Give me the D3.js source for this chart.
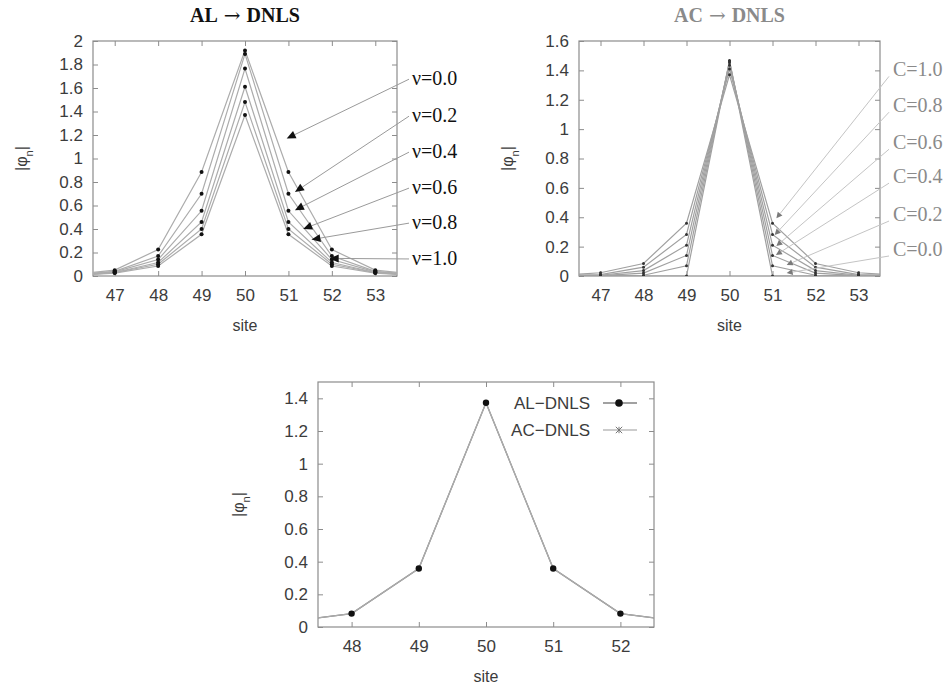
<!DOCTYPE html>
<html>
<head>
<meta charset="utf-8">
<script src="https://cdn.jsdelivr.net/npm/d3@7"></script>
<style>
  html, body { margin: 0; padding: 0; background: #fff; }
  svg { display: block; }
</style>
</head>
<body>
<svg id="chart" width="948" height="690"></svg>
<script>
// ---------------- DATA ----------------
const sites = [46, 47, 48, 49, 50, 51, 52, 53, 54];

// AL -> DNLS panel, one series per nu
const nuLabels = ["ν=0.0", "ν=0.2", "ν=0.4", "ν=0.6", "ν=0.8", "ν=1.0"];
const alNu00 = [0.012, 0.050, 0.225, 0.885, 1.920, 0.885, 0.225, 0.050, 0.012];
const alNu02 = [0.008, 0.040, 0.170, 0.700, 1.890, 0.700, 0.170, 0.040, 0.008];
const alNu04 = [0.006, 0.035, 0.140, 0.555, 1.765, 0.555, 0.140, 0.035, 0.006];
const alNu06 = [0.005, 0.030, 0.115, 0.460, 1.610, 0.460, 0.115, 0.030, 0.005];
const alNu08 = [0.004, 0.028, 0.100, 0.400, 1.480, 0.400, 0.100, 0.028, 0.004];
const alNu10 = [0.004, 0.025, 0.085, 0.355, 1.370, 0.355, 0.085, 0.025, 0.004];
const alSeries = [alNu00, alNu02, alNu04, alNu06, alNu08, alNu10];
// annotation: label height (value units) and arrow target (site, value)
const alLabelValue = [1.675, 1.36, 1.054, 0.748, 0.45, 0.145];
const alArrowSite  = [50.96, 51.15, 51.15, 51.34, 51.53, 51.95];
const alArrowValue = [1.17, 0.715, 0.56, 0.40, 0.31, 0.15];

// AC -> DNLS panel, one series per C
const cLabels = ["C=0.0", "C=0.2", "C=0.4", "C=0.6", "C=0.8", "C=1.0"];
const acC00 = [0.000, 0.000, 0.000, 0.000, 1.467, 0.000, 0.000, 0.000, 0.000];
const acC02 = [0.000, 0.001, 0.005, 0.070, 1.463, 0.070, 0.005, 0.001, 0.000];
const acC04 = [0.000, 0.002, 0.020, 0.140, 1.453, 0.140, 0.020, 0.002, 0.000];
const acC06 = [0.000, 0.005, 0.037, 0.210, 1.435, 0.210, 0.037, 0.005, 0.000];
const acC08 = [0.001, 0.010, 0.060, 0.283, 1.409, 0.283, 0.060, 0.010, 0.001];
const acC10 = [0.003, 0.022, 0.085, 0.360, 1.370, 0.360, 0.085, 0.022, 0.003];
const acSeries = [acC00, acC02, acC04, acC06, acC08, acC10];
const acLabelValue = [0.177, 0.415, 0.673, 0.904, 1.156, 1.40];
const acArrowSite  = [51.33, 51.33, 51.08, 51.09, 51.05, 51.09];
const acArrowValue = [0.02, 0.075, 0.143, 0.204, 0.279, 0.393];

// Bottom comparison panel
const cmpSites = [47, 48, 49, 50, 51, 52, 53];
const alDnls = [0.030, 0.082, 0.358, 1.373, 0.358, 0.082, 0.030];
const acDnls = [0.030, 0.082, 0.358, 1.373, 0.358, 0.082, 0.030];
const legendLabels = ["AL−DNLS", "AC−DNLS"];

// tick labels
const topXTicks = [47, 48, 49, 50, 51, 52, 53];
const alYTicks = [0, 0.2, 0.4, 0.6, 0.8, 1, 1.2, 1.4, 1.6, 1.8, 2];
const acYTicks = [0, 0.2, 0.4, 0.6, 0.8, 1, 1.2, 1.4, 1.6];
const cmpXTicks = [48, 49, 50, 51, 52];
const cmpYTicks = [0, 0.2, 0.4, 0.6, 0.8, 1, 1.2, 1.4];

// ---------------- DRAWING ----------------
const svg = d3.select("#chart");
const fmt = d3.format("~g");
const TICK_FONT = "'Liberation Sans', Arial, sans-serif";
const SERIF = "'Liberation Serif', 'Times New Roman', serif";
const TXT = "#3c3c3c";

function panel(opt) {
  const x = d3.scaleLinear().domain(opt.xDomain).range([opt.left, opt.right]);
  const y = d3.scaleLinear().domain(opt.yDomain).range([opt.bottom, opt.top]);
  const g = svg.append("g");
  const clipId = "clip" + Math.round(opt.left);
  svg.append("defs").append("clipPath").attr("id", clipId)
    .append("rect").attr("x", opt.left).attr("y", opt.top)
    .attr("width", opt.right - opt.left).attr("height", opt.bottom - opt.top);

  function styleAxis(sel, withText) {
    sel.select(".domain").remove();
    sel.selectAll(".tick line").attr("stroke", "#8c8c8c");
    sel.selectAll(".tick text").attr("fill", TXT)
      .style("font-family", TICK_FONT).style("font-size", "17px");
    if (!withText) sel.selectAll(".tick text").remove();
  }
  g.append("g").attr("transform", `translate(0,${opt.bottom})`)
    .call(d3.axisBottom(x).tickValues(opt.xTicks).tickFormat(d3.format("d")).tickSize(-5).tickPadding(13))
    .call(s => styleAxis(s, true));
  g.append("g").attr("transform", `translate(0,${opt.top})`)
    .call(d3.axisTop(x).tickValues(opt.xTicks).tickSize(-5))
    .call(s => styleAxis(s, false));
  g.append("g").attr("transform", `translate(${opt.left},0)`)
    .call(d3.axisLeft(y).tickValues(opt.yTicks).tickFormat(fmt).tickSize(-5).tickPadding(10))
    .call(s => styleAxis(s, true));
  g.append("g").attr("transform", `translate(${opt.right},0)`)
    .call(d3.axisRight(y).tickValues(opt.yTicks).tickSize(-5))
    .call(s => styleAxis(s, false));

  g.append("rect").attr("x", opt.left).attr("y", opt.top)
    .attr("width", opt.right - opt.left).attr("height", opt.bottom - opt.top)
    .attr("fill", "none").attr("stroke", "#8c8c8c").attr("stroke-width", 1.2);

  // axis titles
  g.append("text").attr("x", (opt.left + opt.right) / 2).attr("y", opt.bottom + 55)
    .attr("text-anchor", "middle").attr("fill", TXT)
    .style("font-family", TICK_FONT).style("font-size", "16px").text("site");
  const yl = g.append("text")
    .attr("transform", `translate(${opt.left - opt.ylabOff},${(opt.top + opt.bottom) / 2}) rotate(-90)`)
    .attr("text-anchor", "middle").attr("fill", TXT)
    .style("font-family", TICK_FONT).style("font-size", "16px");
  yl.append("tspan").text("|φ");
  yl.append("tspan").attr("baseline-shift", "sub").style("font-size", "11px").text("n");
  yl.append("tspan").text("|");

  if (opt.title) {
    const t = g.append("text").attr("x", (opt.left + opt.right) / 2).attr("y", 22)
      .attr("text-anchor", "middle").attr("fill", opt.titleColor)
      .style("font-family", SERIF).style("font-size", "20px").style("font-weight", "bold");
    t.append("tspan").text(opt.title[0]);
    t.append("tspan").attr("dx", 6).style("font-family", "'DejaVu Serif', serif").style("font-weight", "normal")
      .style("font-size", "20px").text("→");
    t.append("tspan").attr("dx", 6).text(opt.title[1]);
  }
  return { x, y, g, clipId };
}

function arrow(g, x0, y0, x1, y1, lineColor, headColor, headLen, headW) {
  const ang = Math.atan2(y1 - y0, x1 - x0);
  const bx = x1 - headLen * Math.cos(ang), by = y1 - headLen * Math.sin(ang);
  g.append("line").attr("x1", x0).attr("y1", y0).attr("x2", bx).attr("y2", by)
    .attr("stroke", lineColor).attr("stroke-width", 1);
  const px = -Math.sin(ang) * headW, py = Math.cos(ang) * headW;
  g.append("path")
    .attr("d", `M${x1},${y1}L${bx + px},${by + py}L${bx - px},${by - py}Z`)
    .attr("fill", headColor);
}

// ---- Panel 1: AL -> DNLS ----
{
  const p = panel({ left: 93, right: 397, top: 41, bottom: 276, ylabOff: 66,
    xDomain: [46.5, 53.5], yDomain: [0, 2], xTicks: topXTicks, yTicks: alYTicks,
    title: ["AL", "DNLS"], titleColor: "#111" });
  const line = d3.line().x((d, i) => p.x(sites[i])).y(d => p.y(d));
  const cg = p.g.append("g").attr("clip-path", `url(#${p.clipId})`);
  alSeries.forEach(s => {
    cg.append("path").attr("d", line(s)).attr("fill", "none")
      .attr("stroke", "#acacac").attr("stroke-width", 1.2);
  });
  alSeries.forEach(s => {
    cg.selectAll(null).data(s).enter().append("circle")
      .attr("cx", (d, i) => p.x(sites[i])).attr("cy", d => p.y(d)).attr("r", 2)
      .attr("fill", "#111");
  });
  nuLabels.forEach((lab, i) => {
    const ly = p.y(alLabelValue[i]);
    arrow(p.g, 409, ly, p.x(alArrowSite[i]), p.y(alArrowValue[i]), "#9a9a9a", "#111", 9, 4);
    p.g.append("text").attr("x", 412).attr("y", ly + 6).attr("fill", "#111")
      .style("font-family", SERIF).style("font-size", "20px").text(lab);
  });
}

// ---- Panel 2: AC -> DNLS ----
{
  const p = panel({ left: 579, right: 880, top: 41, bottom: 276, ylabOff: 66,
    xDomain: [46.5, 53.5], yDomain: [0, 1.6], xTicks: topXTicks, yTicks: acYTicks,
    title: ["AC", "DNLS"], titleColor: "#8a8a8a" });
  const line = d3.line().x((d, i) => p.x(sites[i])).y(d => p.y(d));
  const cg = p.g.append("g").attr("clip-path", `url(#${p.clipId})`);
  acSeries.forEach(s => {
    cg.append("path").attr("d", line(s)).attr("fill", "none")
      .attr("stroke", "#a0a0a0").attr("stroke-width", 1.2);
  });
  acSeries.forEach(s => {
    cg.selectAll(null).data(s).enter().append("circle")
      .attr("cx", (d, i) => p.x(sites[i])).attr("cy", d => p.y(d)).attr("r", 1.5)
      .attr("fill", "#333");
  });
  cLabels.forEach((lab, i) => {
    const ly = p.y(acLabelValue[i]);
    arrow(p.g, 889, ly + 6, p.x(acArrowSite[i]), p.y(acArrowValue[i]), "#c4c4c4", "#7a7a7a", 6, 3);
    p.g.append("text").attr("x", 893).attr("y", ly + 6).attr("fill", "#8a8a8a")
      .style("font-family", SERIF).style("font-size", "20px").text(lab);
  });
}

// ---- Panel 3: comparison ----
{
  const p = panel({ left: 318, right: 654, top: 382, bottom: 627, ylabOff: 74,
    xDomain: [47.5, 52.5], yDomain: [0, 1.5], xTicks: cmpXTicks, yTicks: cmpYTicks });
  const line = d3.line().x((d, i) => p.x(cmpSites[i])).y(d => p.y(d));
  const cg = p.g.append("g").attr("clip-path", `url(#${p.clipId})`);
  cg.append("path").attr("d", line(alDnls)).attr("fill", "none")
    .attr("stroke", "#777").attr("stroke-width", 1.2);
  cg.append("path").attr("d", line(acDnls)).attr("fill", "none")
    .attr("stroke", "#ababab").attr("stroke-width", 1.4);
  cg.selectAll(null).data(alDnls).enter().append("circle")
    .attr("cx", (d, i) => p.x(cmpSites[i])).attr("cy", d => p.y(d)).attr("r", 3.2)
    .attr("fill", "#111");
  // legend
  const lg = p.g.append("g");
  const rows = [403, 430];
  legendLabels.forEach((lab, i) => {
    lg.append("text").attr("x", 590).attr("y", rows[i] + 6).attr("text-anchor", "end")
      .attr("fill", TXT).style("font-family", TICK_FONT).style("font-size", "17px").text(lab);
    lg.append("line").attr("x1", 603).attr("x2", 637).attr("y1", rows[i]).attr("y2", rows[i])
      .attr("stroke", i === 0 ? "#444" : "#9a9a9a").attr("stroke-width", 1.2);
  });
  lg.append("circle").attr("cx", 619).attr("cy", rows[0]).attr("r", 3.8).attr("fill", "#111");
  const s = 3.2, cx = 619, cy = rows[1];
  lg.append("path")
    .attr("d", `M${cx - s},${cy - s}L${cx + s},${cy + s}M${cx - s},${cy + s}L${cx + s},${cy - s}M${cx},${cy - s}L${cx},${cy + s}`)
    .attr("stroke", "#777").attr("stroke-width", 1);
}
</script>
</body>
</html>
